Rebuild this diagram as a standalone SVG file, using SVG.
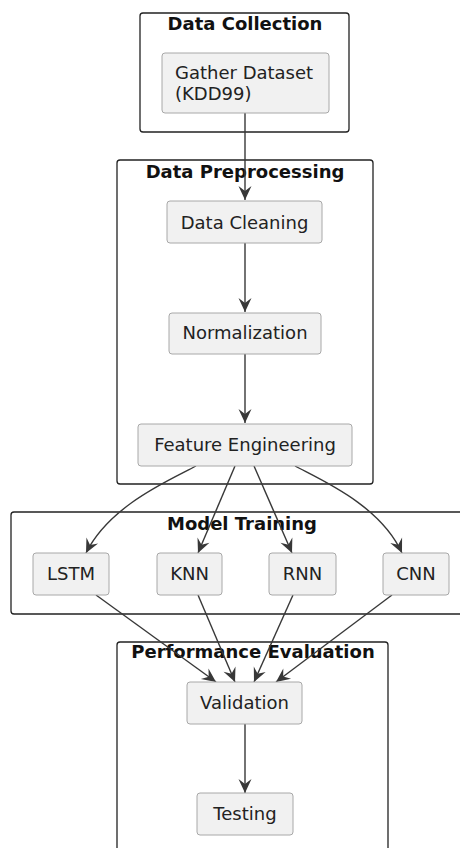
<svg xmlns="http://www.w3.org/2000/svg" width="460" height="848" viewBox="0 0 460 848">
<defs>
<style>
.cl{fill:none;stroke:#222;stroke-width:1.3}
.nd{fill:#f1f1f1;stroke:#a8a8a8;stroke-width:1}
.t{font-family:"DejaVu Sans",sans-serif;font-size:18px;fill:#222}
.tb{font-family:"DejaVu Sans",sans-serif;font-size:18px;font-weight:bold;fill:#111;text-anchor:middle}
.c{text-anchor:middle}
.e{fill:none;stroke:#383838;stroke-width:1.4}
</style>
<marker id="ah" markerUnits="userSpaceOnUse" markerWidth="16" markerHeight="16" viewBox="0 0 16 16" refX="15" refY="8" orient="auto">
<path d="M1,1.5 L15,8 L1,14.5 L6,8 Z" fill="#383838"/>
</marker>
</defs>
<rect width="460" height="848" fill="#fff"/>
<g id="cluster-data-collection">
<rect class="cl" x="140" y="13" width="209" height="119" rx="3"/>
<text class="tb" x="245" y="30">Data Collection</text>
</g>
<g id="cluster-data-preprocessing">
<rect class="cl" x="117" y="160" width="256" height="324" rx="3"/>
<text class="tb" x="245" y="178">Data Preprocessing</text>
</g>
<g id="cluster-model-training">
<rect class="cl" x="11" y="512" width="460" height="102" rx="3"/>
<text class="tb" x="242" y="530">Model Training</text>
</g>
<g id="cluster-performance-evaluation">
<rect class="cl" x="117" y="642" width="271" height="220" rx="3"/>
<text class="tb" x="253" y="658">Performance Evaluation</text>
</g>
<g id="edges">
<path class="e" d="M245,113 L245,200" marker-end="url(#ah)"/>
<path class="e" d="M245,243 L245,312" marker-end="url(#ah)"/>
<path class="e" d="M245,354 L245,423" marker-end="url(#ah)"/>
<path class="e" d="M196,466 C170,480 110,505 86,553" marker-end="url(#ah)"/>
<path class="e" d="M235,466 L198,553" marker-end="url(#ah)"/>
<path class="e" d="M254,466 L292,553" marker-end="url(#ah)"/>
<path class="e" d="M295,466 C321,480 380,505 402,553" marker-end="url(#ah)"/>
<path class="e" d="M96,595 L216,682" marker-end="url(#ah)"/>
<path class="e" d="M198,595 L235,682" marker-end="url(#ah)"/>
<path class="e" d="M293,595 L254,682" marker-end="url(#ah)"/>
<path class="e" d="M392,595 L276,682" marker-end="url(#ah)"/>
<path class="e" d="M245,724 L245,793" marker-end="url(#ah)"/>
</g>
<g id="node-gather">
<rect class="nd" x="162" y="53" width="167" height="60" rx="3"/>
<text class="t" x="175" y="79">Gather Dataset</text>
<text class="t" x="175" y="100">(KDD99)</text>
</g>
<g id="node-cleaning">
<rect class="nd" x="167" y="201" width="155" height="42" rx="3"/>
<text class="t c" x="244.5" y="229">Data Cleaning</text>
</g>
<g id="node-normalization">
<rect class="nd" x="169" y="313" width="152" height="41" rx="3"/>
<text class="t c" x="245" y="339">Normalization</text>
</g>
<g id="node-feature">
<rect class="nd" x="138" y="424" width="214" height="42" rx="3"/>
<text class="t c" x="245" y="451">Feature Engineering</text>
</g>
<g id="node-lstm">
<rect class="nd" x="33" y="553" width="76" height="42" rx="3"/>
<text class="t c" x="71" y="580">LSTM</text>
</g>
<g id="node-knn">
<rect class="nd" x="157" y="553" width="65" height="42" rx="3"/>
<text class="t c" x="189.5" y="580">KNN</text>
</g>
<g id="node-rnn">
<rect class="nd" x="269" y="553" width="67" height="42" rx="3"/>
<text class="t c" x="302.5" y="580">RNN</text>
</g>
<g id="node-cnn">
<rect class="nd" x="383" y="553" width="66" height="42" rx="3"/>
<text class="t c" x="416" y="580">CNN</text>
</g>
<g id="node-validation">
<rect class="nd" x="187" y="682" width="115" height="42" rx="3"/>
<text class="t c" x="244.5" y="709">Validation</text>
</g>
<g id="node-testing">
<rect class="nd" x="197" y="793" width="96" height="42" rx="3"/>
<text class="t c" x="245" y="820">Testing</text>
</g>
</svg>
